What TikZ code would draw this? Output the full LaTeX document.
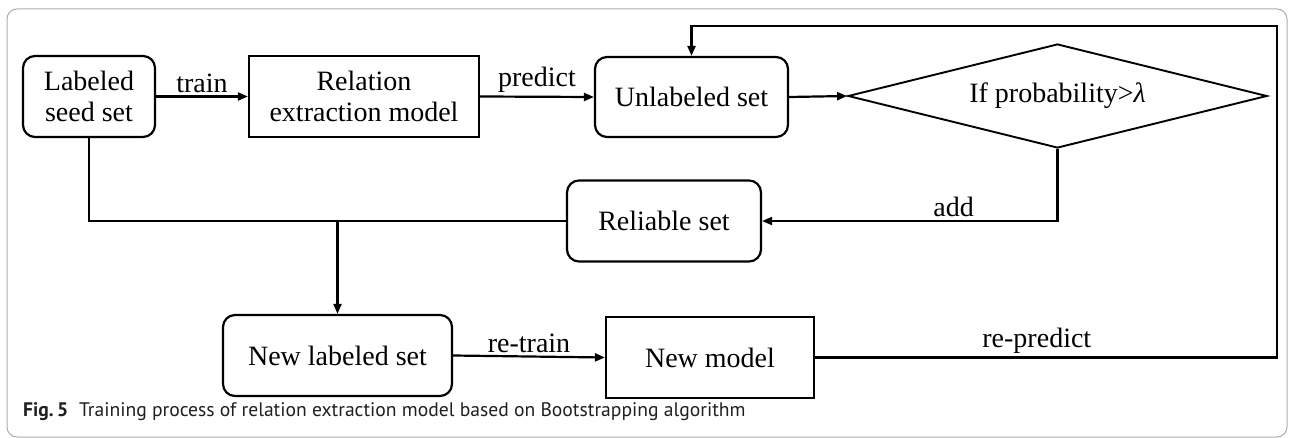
\documentclass[tikz,border=0pt]{standalone}
\usepackage{fontspec}
\setmainfont{Liberation Serif}
\newfontfamily\captionsans{PT Sans}
\usetikzlibrary{shapes.geometric,arrows.meta}
\begin{document}
\begin{tikzpicture}[x=1pt,y=-1pt,
  every node/.style={font=\fontsize{28}{31}\selectfont},
  box/.style={draw, line width=2.2pt, inner sep=0pt, align=center},
  roundbox/.style={box, rounded corners=12pt},
  decision/.style={draw, diamond, line width=1.9pt, inner sep=0pt, shape aspect=4},
  link/.style={line width=2.2pt},
  arr/.style={link, -{Triangle[length=10pt,width=8pt]}},
  lbl/.style={inner sep=3pt}]

% page and outer frame
\useasboundingbox (0,0) rectangle (1292,438);
\draw[gray!65, line width=1pt, rounded corners=10pt] (7,9) rectangle (1287,437);

% process steps
\node[roundbox, minimum width=132pt, minimum height=81pt] (seed) at (89,96.5) {Labeled\\seed set};
\node[box, minimum width=230pt, minimum height=81pt] (rem) at (364,96.5) {Relation\\extraction model};
\node[roundbox, minimum width=193pt, minimum height=80pt] (unl) at (691.5,97) {Unlabeled set};
\node[decision, minimum width=419pt, minimum height=104pt] (dia) at (1057.5,96) {If probability>{\itshape λ}};
\node[roundbox, minimum width=194pt, minimum height=81pt] (rel) at (664,221) {Reliable set};
\node[roundbox, minimum width=229pt, minimum height=81pt] (nls) at (337.5,355.5) {New labeled set};
\node[box, minimum width=208pt, minimum height=81pt] (nm) at (710,357.5) {New model};

% connectors
\draw[arr] (seed.east) -- node[above, lbl] {train} (rem.west);
\draw[arr] (rem.east) -- node[above, lbl] {predict} (unl.west);
\draw[arr] (unl.east) -- (dia.west);
\draw[arr] (dia.south) |- node[pos=0.676, above, lbl] {add} (rel.east);
\draw[link] (seed.south) |- (rel.west);
\coordinate (split) at (nls.north |- rel.west);
\draw[arr] (split) -- (nls.north);
\draw[arr] (nls.east) -- node[above, lbl] {re-train} (nm.west);
\coordinate (loopcorner) at (1277,26);
\draw[arr] (nm.east) -- node[pos=0.48, above, lbl] {re-predict} (nm.east -| loopcorner)
  -- (loopcorner) -| (unl.north);

% caption
\node[anchor=base west, inner sep=0pt, font=\captionsans\fontsize{19.6}{23}\selectfont, text=black!88] (cap) at (23,416)
  {\textbf{Fig.\,5}\hspace{11pt}Training process of relation extraction model based on Bootstrapping algorithm};
\end{tikzpicture}
\end{document}
